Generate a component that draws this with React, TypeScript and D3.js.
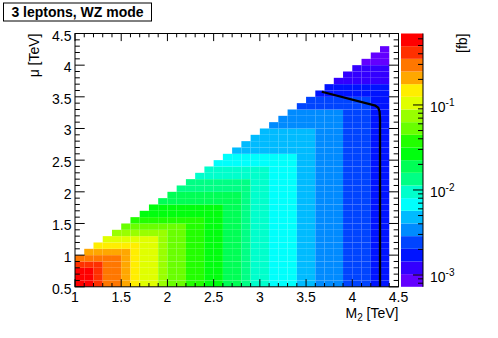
import React from "react";
import * as d3 from "d3";

// ---------------- data ----------------
// Binning of the (M2, mu) grid in TeV
const M2_LOW = 1.0;
const MU_LOW = 0.5;
const BIN = 0.1;
const NCOLS = 34; // M2 bins 1.0 .. 4.4

// Cross-section map, one string per mu row (bottom row first).
// Each letter is the colour band of the cell: a = lowest band ... t = highest band.
// Rows are right-aligned: the first letter sits at column NCOLS - length.
const sigmaRows: string[] = [
  "ttsrrqpoonmmllkkjjihhgggffeeedddcc",
  "ttsrrqpoonmmllkkjjihhgggffeeedddcc",
  "ttsrrqpoonmmllkkjjihhgggffeeedddcc",
  "sssrrqpoonmmllkkjjihhgggffeeedddcc",
  "rrrrrqpoonmmllkkjjihhgggffeeedddcc",
  "qqqqqpoonmmllkkjjihhgggffeeedddcc",
  "pppppoonmmllkkjjihhgggffeeedddcc",
  "oooooonmmllkkjjihhgggffeeedddcc",
  "nnnnnnmmllkkjjihhgggffeeedddcc",
  "mmmmmmmllkkjjihhgggffeeedddcc",
  "llllllllkkjjihhgggffeeedddcc",
  "kkkkkkkkkjjihhgggffeeedddcc",
  "kkkkkkkkjjihhgggffeeedddcc",
  "jjjjjjjjjihhgggffeeedddcc",
  "jjjjjjjjihhgggffeeedddcc",
  "iiiiiiiihhgggffeeedddcc",
  "iiiiiiihhgggffeeedddcc",
  "hhhhhhhhgggffeeedddcc",
  "hhhhhhhgggffeeedddcc",
  "gggggggggffeeedddcc",
  "ggggggggffeeedddcc",
  "fffffffffeeedddcc",
  "ffffffffeeedddcc",
  "fffffffeeedddcc",
  "ffffffeeedddcc",
  "eeeeeeeedddcc",
  "eeeeeeedddcc",
  "eeeeeedddcc",
  "ddddddddcc",
  "dddddddcc",
  "cccccccc",
  "ccccccc",
  "bbbbbb",
  "bbbbb",
  "bbbb",
  "aaa",
  "aa",
  "a",
];

// colour axis range [fb]
const zMin = 7.26e-4;
const zMax = 0.693;
const NBANDS = 20;

// axis ticks
const xMajor = [1, 1.5, 2, 2.5, 3, 3.5, 4, 4.5];
const yMajor = [0.5, 1, 1.5, 2, 2.5, 3, 3.5, 4, 4.5];
const zMajorExp = [-3, -2, -1];

// exclusion limit line
const limitM2 = [3.67, 4.25, 4.28, 4.295, 4.3, 4.3];
const limitMu = [3.58, 3.36, 3.33, 3.27, 3.15, 0.5];

// ---------------- style ----------------
const FONT = "'Liberation Sans', Arial, Helvetica, sans-serif";
const bandHues = [263.2, 252, 235.2, 224, 207.2, 196, 179.2, 168, 151.2, 140, 123.2, 112, 95.2, 84, 67.2, 56, 39.2, 28, 11.2, 0];

export default function App() {
  const left = 75, right = 398.5, top = 33.5, bottom = 286.8;
  const x = d3.scaleLinear().domain([1, 4.5]).range([left, right]);
  const y = d3.scaleLinear().domain([0.5, 4.5]).range([bottom, top]);
  const z = d3.scaleLog().domain([zMin, zMax]).range([bottom, top]);
  const lzMin = Math.log10(zMin), lzMax = Math.log10(zMax);
  const palette = bandHues.map((h) => d3.hsl(h, 1, 0.5).formatHex());
  const color = d3.scaleQuantize<string>().domain([lzMin, lzMax]).range(palette);
  const step = (lzMax - lzMin) / NBANDS;

  const cells = sigmaRows.flatMap((s, r) => {
    const start = NCOLS - s.length;
    return s.split("").map((ch, k) => {
      const lvl = ch.charCodeAt(0) - 97;
      const value = Math.pow(10, lzMin + (lvl + 0.5) * step);
      return { c: start + k, r, value };
    });
  });

  const xMinor = d3.range(10, 46).map((i) => i / 10);
  const yMinor = d3.range(5, 46).map((i) => i / 10);
  const xTL = 7.6, yTL = 9.7;

  const zMinor: number[] = [];
  for (let e = -4; e <= 0; e++) {
    for (let k = 2; k <= 9; k++) {
      const v = k * Math.pow(10, e);
      if (v > zMin && v < zMax) zMinor.push(v);
    }
  }

  const line = d3
    .line<number>()
    .x((_, i) => x(limitM2[i]))
    .y((_, i) => y(limitMu[i]));

  const palLeft = 401, palRight = 423;

  return (
    <svg
      width={498}
      height={338}
      style={{ position: "absolute", left: 0, top: 0, background: "#fff" }}
      fontFamily={FONT}
    >
      <rect x={0} y={0} width={498} height={338} fill="#fff" />
      {/* heat map */}
      <g>
        {cells.map((d, i) => (
          <rect
            key={i}
            x={x(M2_LOW + d.c * BIN)}
            width={x(M2_LOW + (d.c + 1) * BIN) - x(M2_LOW + d.c * BIN)}
            y={y(MU_LOW + (d.r + 1) * BIN)}
            height={y(MU_LOW + d.r * BIN) - y(MU_LOW + (d.r + 1) * BIN)}
            fill={color(Math.log10(d.value))}
          />
        ))}
      </g>
      {/* limit line */}
      <path d={line(limitM2) || ""} fill="none" stroke="#000" strokeWidth={2.3} strokeLinejoin="round" />

      {/* frame */}
      <rect x={left} y={top} width={right - left} height={bottom - top} fill="none" stroke="#000" strokeWidth={1} />
      {/* x ticks bottom & top */}
      <g stroke="#000" strokeWidth={1}>
        {xMinor.map((v) => {
          const major = xMajor.some((m) => Math.abs(m - v) < 1e-6);
          const l = major ? xTL : xTL / 2;
          return (
            <g key={"x" + v}>
              <line x1={x(v)} x2={x(v)} y1={bottom} y2={bottom - l} />
              <line x1={x(v)} x2={x(v)} y1={top} y2={top + l} />
            </g>
          );
        })}
        {yMinor.map((v) => {
          const major = yMajor.some((m) => Math.abs(m - v) < 1e-6);
          const l = major ? yTL : yTL / 2;
          return (
            <g key={"y" + v}>
              <line x1={left} x2={left + l} y1={y(v)} y2={y(v)} />
              <line x1={right} x2={right - l} y1={y(v)} y2={y(v)} />
            </g>
          );
        })}
      </g>
      {/* x labels */}
      <g fontSize={14} textAnchor="middle">
        {xMajor.map((v) => (
          <text key={v} x={x(v)} y={301.5}>
            {String(v)}
          </text>
        ))}
      </g>
      {/* y labels */}
      <g fontSize={14} textAnchor="end">
        {yMajor.map((v) => (
          <text key={v} x={71.5} y={y(v) + 7}>
            {String(v)}
          </text>
        ))}
      </g>
      {/* axis titles */}
      <text x={right} y={318} fontSize={14} textAnchor="end">
        <tspan>M</tspan>
        <tspan fontSize={10} dy={3}>2</tspan>
        <tspan dy={-3}> [TeV]</tspan>
      </text>
      <text transform={`translate(39,${top}) rotate(-90)`} fontSize={14} textAnchor="end">
        μ [TeV]
      </text>

      {/* palette */}
      <g>
        {palette.map((c, i) => {
          const lo = Math.pow(10, lzMin + i * step);
          const hi = Math.pow(10, lzMin + (i + 1) * step);
          return <rect key={i} x={palLeft} width={palRight - palLeft} y={z(hi)} height={z(lo) - z(hi)} fill={c} />;
        })}
        <line x1={palRight} x2={palRight} y1={top} y2={bottom} stroke="#000" strokeWidth={1} />
        <g stroke="#000" strokeWidth={1}>
          {zMajorExp.map((e) => (
            <line key={e} x1={palRight} x2={palRight - 10} y1={z(Math.pow(10, e))} y2={z(Math.pow(10, e))} />
          ))}
          {zMinor.map((v) => (
            <line key={v} x1={palRight} x2={palRight - 5} y1={z(v)} y2={z(v)} />
          ))}
        </g>
        <g fontSize={14}>
          {zMajorExp.map((e) => (
            <text key={e} x={430} y={z(Math.pow(10, e)) + 7}>
              10
              <tspan fontSize={10} dy={-6}>
                {String(e)}
              </tspan>
            </text>
          ))}
        </g>
        <text transform={`translate(467,${top}) rotate(-90)`} fontSize={14} textAnchor="end">
          [fb]
        </text>
      </g>

      {/* title box */}
      <rect x={3.5} y={3} width={148} height={18} fill="#fff" stroke="#000" strokeWidth={1} />
      <text x={77.5} y={16.5} fontSize={14} fontWeight="bold" textAnchor="middle">
        3 leptons, WZ mode
      </text>
    </svg>
  );
}
